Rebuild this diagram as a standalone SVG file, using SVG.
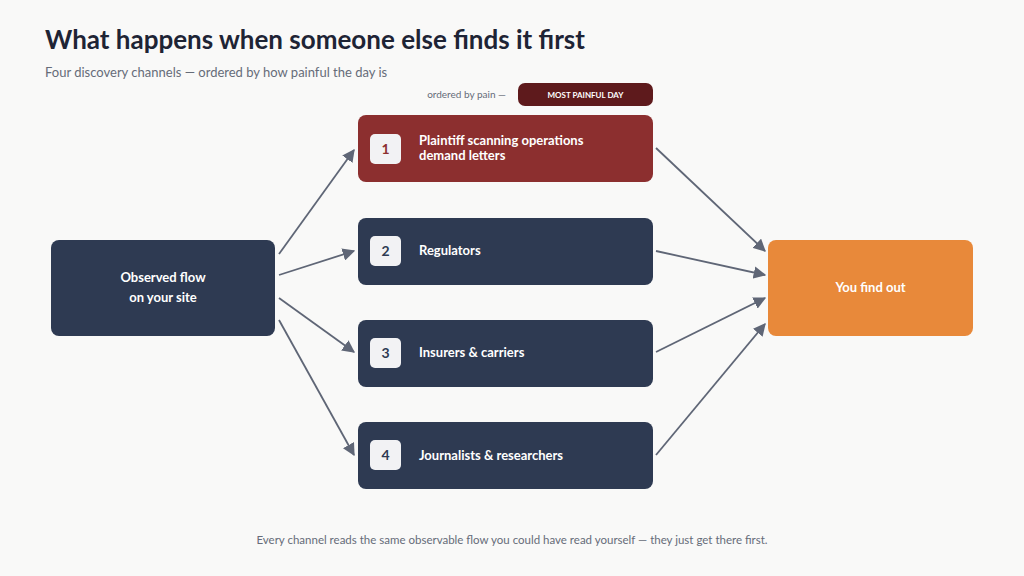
<svg xmlns="http://www.w3.org/2000/svg" width="1024" height="576" viewBox="0 0 1024 576">
<style>
text{font-family:Lato,"Open Sans",sans-serif}
.t{font-weight:700;fill:#fff;font-size:13px}
.n{fill:#2e3a52}
.badge{fill:#f2f2f4}
.num{font-weight:700;font-size:14px;fill:#2e3a52;text-anchor:middle}
.c line{stroke:#5f6676;stroke-width:1.8;marker-end:url(#a)}
</style>
<defs><marker id="a" viewBox="0 0 10 10" refX="9" refY="5" markerWidth="7" markerHeight="7" orient="auto"><path d="M0,0L10,5L0,10z" fill="#5f6676"/></marker></defs>
<rect width="1024" height="576" fill="#f9f9f8"/>
<text x="45" y="49" font-size="26" font-weight="700" fill="#1e2435">What happens when someone else finds it first</text>
<text x="45" y="77" font-size="13" fill="#666c78">Four discovery channels — ordered by how painful the day is</text>
<text x="506" y="98" font-size="10" fill="#666c78" text-anchor="end">ordered by pain —</text>
<rect x="518" y="83" width="135" height="23" rx="7" fill="#5e1a1c"/>
<text x="585.5" y="98" font-size="8" font-weight="700" fill="#fff" text-anchor="middle">MOST PAINFUL DAY</text>
<g class="c">
<line x1="279" y1="254" x2="354" y2="150"/>
<line x1="279" y1="275" x2="354" y2="251"/>
<line x1="279" y1="298" x2="354" y2="352"/>
<line x1="279" y1="320" x2="354" y2="455"/>
<line x1="656" y1="148" x2="765" y2="251"/>
<line x1="656" y1="251" x2="765" y2="275"/>
<line x1="656" y1="352" x2="765" y2="298"/>
<line x1="656" y1="455" x2="765" y2="324"/>
</g>
<g id="src"><rect x="51" y="240" width="224" height="96" rx="8" class="n"/>
<text x="163" y="282" class="t" font-size="15" text-anchor="middle">Observed flow</text>
<text x="163" y="302" class="t" font-size="15" text-anchor="middle">on your site</text></g>
<g id="n1"><rect x="358" y="115" width="295" height="67" rx="8" fill="#8c2f2f"/>
<rect x="370" y="134" width="31" height="30" rx="5" class="badge"/><text x="385.5" y="154" class="num" fill="#8c2f2f" style="fill:#8c2f2f">1</text>
<text x="419" y="145" class="t">Plaintiff scanning operations</text><text x="419" y="160" class="t">demand letters</text></g>
<g id="n2"><rect x="358" y="218" width="295" height="67" rx="8" class="n"/>
<rect x="370" y="236" width="31" height="30" rx="5" class="badge"/><text x="385.5" y="256" class="num">2</text>
<text x="419" y="255" class="t">Regulators</text></g>
<g id="n3"><rect x="358" y="320" width="295" height="67" rx="8" class="n"/>
<rect x="370" y="338" width="31" height="30" rx="5" class="badge"/><text x="385.5" y="358" class="num">3</text>
<text x="419" y="357" class="t">Insurers &amp; carriers</text></g>
<g id="n4"><rect x="358" y="422" width="295" height="67" rx="8" class="n"/>
<rect x="370" y="440" width="31" height="30" rx="5" class="badge"/><text x="385.5" y="460" class="num">4</text>
<text x="419" y="460" class="t">Journalists &amp; researchers</text></g>
<g id="out"><rect x="768" y="240" width="205" height="96" rx="8" fill="#e8893a"/>
<text x="870.5" y="292" class="t" font-size="15" text-anchor="middle">You find out</text></g>
<text x="512" y="544" font-size="11.5" fill="#666c78" text-anchor="middle">Every channel reads the same observable flow you could have read yourself — they just get there first.</text>
</svg>
